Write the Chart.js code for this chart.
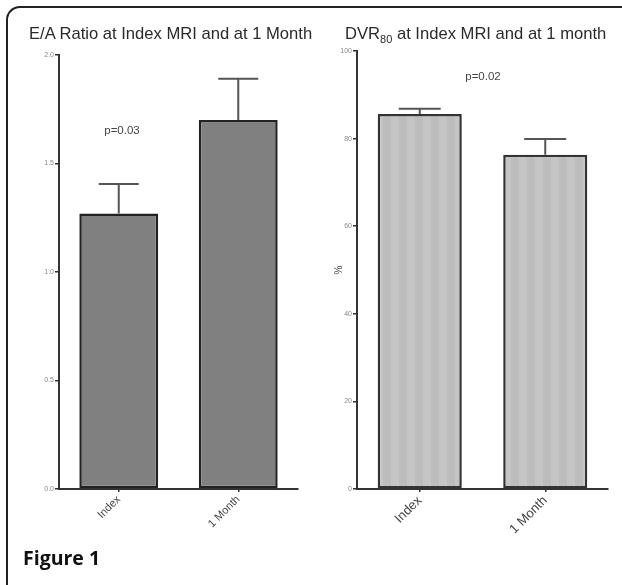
<!DOCTYPE html>
<html>
<head>
<meta charset="utf-8">
<script src="https://cdn.jsdelivr.net/npm/chart.js@4.4.0/dist/chart.umd.min.js"></script>
<style>
  body { margin: 0; width: 622px; height: 585px; background: #fff; position: relative; overflow: hidden; font-family: "Liberation Sans", Arial, sans-serif; }
  .frame { position: absolute; left: 6px; top: 6px; width: 700px; height: 640px; border-left: 2px solid #222; border-top: 2px solid #222; border-top-left-radius: 14px; }
  .wrap { position: absolute; top: 0; height: 585px; }
  .title { position: absolute; top: 24px; font-size: 16.6px; color: #2a2a2a; white-space: nowrap; }
  .title sub { font-size: 11px; vertical-align: -4px; line-height: 0; }
  .fig { position: absolute; left: 23px; top: 544px; font-family: "Open Sans", sans-serif; font-weight: bold; font-size: 19.5px; color: #111; }
</style>
</head>
<body>
<div class="frame"></div>
<div class="wrap" style="left:0;width:311px"><canvas id="c1"></canvas></div>
<div class="wrap" style="left:311px;width:311px"><canvas id="c2"></canvas></div>
<div class="title" style="left:29px">E/A Ratio at Index MRI and at 1 Month</div>
<div class="title" style="left:345px">DVR<sub>80</sub> at Index MRI and at 1 month</div>
<div class="fig">Figure 1</div>
<script>
// ---- data ----
const CATEGORIES = ["Index", "1 Month"];
const EA_RATIO = [1.27, 1.70];
const EA_ERR = [0.135, 0.19];
const DVR80 = [85.6, 76.3];
const DVR80_ERR = [1.2, 3.6];
const EA_TICKS = [0, 0.5, 1.0, 1.5, 2.0];
const DVR_TICKS = [0, 20, 40, 60, 80, 100];

// 竖条纹填充 (右图)
function stripePattern() {
  const c = document.createElement("canvas");
  c.width = 16; c.height = 4;
  const g = c.getContext("2d");
  g.fillStyle = "#c5c5c5"; g.fillRect(0, 0, 8, 4);
  g.fillStyle = "#bcbcbc"; g.fillRect(8, 0, 8, 4);
  return g.createPattern(c, "repeat");
}

// 误差线 + p 值标注
const errorBars = {
  id: "errorBars",
  afterDatasetsDraw(chart, args, opts) {
    const { ctx, scales: { y } } = chart;
    const meta = chart.getDatasetMeta(0);
    ctx.save();
    ctx.strokeStyle = opts.color;
    ctx.lineWidth = opts.width;
    meta.data.forEach((bar, i) => {
      const v = chart.data.datasets[0].data[i];
      const yTop = y.getPixelForValue(v + opts.errors[i]);
      const yBar = y.getPixelForValue(v);
      ctx.beginPath();
      ctx.moveTo(bar.x, yBar);
      ctx.lineTo(bar.x, yTop);
      ctx.moveTo(bar.x - opts.cap, yTop);
      ctx.lineTo(bar.x + opts.cap, yTop);
      ctx.stroke();
    });
    ctx.fillStyle = "#444";
    ctx.font = opts.pFont;
    ctx.textAlign = "center";
    ctx.textBaseline = "middle";
    ctx.fillText(opts.pText, opts.pAt[0] - chart.canvas.getBoundingClientRect().left, opts.pAt[1]);
    ctx.restore();
  },
};

function makeChart(id, cfg) {
  return new Chart(document.getElementById(id), {
    type: "bar",
    data: {
      labels: CATEGORIES,
      datasets: [{
        data: cfg.values,
        backgroundColor: cfg.fill,
        borderColor: cfg.border,
        borderWidth: 2.5,
        borderSkipped: false,
        barPercentage: cfg.barPct,
        categoryPercentage: 1,
      }],
    },
    options: {
      responsive: true,
      maintainAspectRatio: false,
      animation: false,
      layout: { padding: cfg.padding },
      plugins: {
        legend: { display: false },
        tooltip: { enabled: false },
        errorBars: cfg.err,
      },
      scales: {
        x: {
          afterFit: (s) => { s.height = 80; },
          grid: { offset: false, drawOnChartArea: false, drawTicks: true, tickLength: 3, color: "#333", lineWidth: 1.5 },
          border: { display: true, color: "#333", width: 2 },
          ticks: { color: "#444", font: { family: "'Liberation Sans', Arial", size: cfg.xFont }, minRotation: 45, maxRotation: 45, padding: 1 },
        },
        y: {
          min: 0,
          max: cfg.max,
          afterFit: (s) => { s.width = cfg.yWidth; },
          afterBuildTicks: (s) => { s.ticks = cfg.ticks.map((v) => ({ value: v })); },
          title: cfg.yTitle,
          grid: { drawOnChartArea: false, drawTicks: true, tickLength: 4, color: "#333", lineWidth: 1.5 },
          border: { display: true, color: "#333", width: 2 },
          ticks: { color: "#888", font: { family: "'Liberation Sans', Arial", size: 7 }, padding: 1, callback: cfg.fmt },
        },
      },
    },
    plugins: [errorBars],
  });
}

makeChart("c1", {
  values: EA_RATIO,
  fill: "#808080",
  border: "#222",
  barPct: 0.66,
  max: 2,
  ticks: EA_TICKS,
  fmt: (v) => Number(v).toFixed(1),
  yWidth: 30,
  yTitle: { display: false },
  xFont: 11,
  padding: { left: 29, right: 13, top: 55, bottom: 16 },
  err: { errors: EA_ERR, color: "#555", width: 2, cap: 20, pText: "p=0.03", pAt: [122, 131], pFont: "11.5px 'Liberation Sans', Arial" },
});

makeChart("c2", {
  values: DVR80,
  fill: stripePattern(),
  border: "#333",
  barPct: 0.67,
  max: 100,
  ticks: DVR_TICKS,
  fmt: (v) => String(v),
  yWidth: 24,
  yTitle: { display: true, text: "%", color: "#444", font: { family: "'Liberation Sans', Arial", size: 10 }, padding: 0 },
  xFont: 13,
  padding: { left: 22, right: 14, top: 51, bottom: 16 },
  err: { errors: DVR80_ERR, color: "#555", width: 2, cap: 21, pText: "p=0.02", pAt: [483, 77], pFont: "11.5px 'Liberation Sans', Arial" },
});
</script>
</body>
</html>
